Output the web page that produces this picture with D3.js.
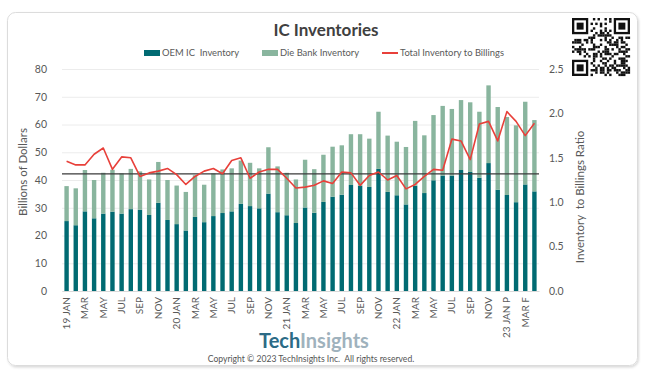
<!DOCTYPE html>
<html>
<head>
<meta charset="utf-8">
<script src="https://cdn.jsdelivr.net/npm/d3@7"></script>
<style>
  html, body { margin: 0; padding: 0; background: #ffffff; }
  svg { display: block; font-family: Lato, "Open Sans", sans-serif; }
</style>
</head>
<body>
<div id="chart"></div>
<script>
// monthly points, Jan 2019 .. Apr 2023
const months = [
  "2019-01","2019-02","2019-03","2019-04","2019-05","2019-06","2019-07","2019-08","2019-09","2019-10","2019-11","2019-12",
  "2020-01","2020-02","2020-03","2020-04","2020-05","2020-06","2020-07","2020-08","2020-09","2020-10","2020-11","2020-12",
  "2021-01","2021-02","2021-03","2021-04","2021-05","2021-06","2021-07","2021-08","2021-09","2021-10","2021-11","2021-12",
  "2022-01","2022-02","2022-03","2022-04","2022-05","2022-06","2022-07","2022-08","2022-09","2022-10","2022-11","2022-12",
  "2023-01","2023-02","2023-03","2023-04"
];
// axis label for each month ("" = no label)
const tickLabels = [
  "19 JAN","","MAR","","MAY","","JUL","","SEP","","NOV","",
  "20 JAN","","MAR","","MAY","","JUL","","SEP","","NOV","",
  "21 JAN","","MAR","","MAY","","JUL","","SEP","","NOV","",
  "22 JAN","","MAR","","MAY","","JUL","","SEP","","NOV","",
  "23 JAN P","","MAR F",""
];
// billions of dollars
const oemInventory = [
  25.2, 23.7, 28.7, 26.2, 27.9, 28.6, 27.9, 29.5, 29.3, 27.4, 31.8, 25.6,
  24.1, 21.8, 26.7, 24.8, 27.0, 28.1, 28.7, 31.4, 30.6, 29.8, 35.1, 28.4,
  27.3, 24.5, 30.1, 28.2, 32.1, 34.0, 34.7, 38.2, 37.9, 37.5, 44.0, 35.7,
  34.5, 31.2, 37.9, 35.3, 39.9, 41.6, 41.6, 43.6, 42.9, 40.8, 46.1, 36.5,
  34.6, 32.0, 38.4, 35.9
];
const dieBankInventory = [
  12.6, 13.3, 14.9, 13.8, 14.7, 15.1, 14.5, 14.5, 13.8, 12.8, 14.7, 14.4,
  13.9, 13.9, 15.0, 13.5, 15.4, 15.7, 15.5, 15.6, 15.6, 14.4, 16.7, 16.5,
  15.3, 15.7, 17.2, 15.7, 17.0, 18.0, 17.8, 18.3, 18.6, 17.4, 20.6, 20.3,
  19.3, 20.7, 23.4, 20.8, 23.5, 25.1, 24.0, 25.2, 25.1, 23.8, 28.0, 29.8,
  28.1, 27.7, 29.8, 25.7
];
const inventoryToBillings = [
  1.46, 1.42, 1.42, 1.54, 1.61, 1.37, 1.51, 1.50, 1.29, 1.33, 1.35, 1.38,
  1.31, 1.20, 1.29, 1.35, 1.38, 1.32, 1.47, 1.50, 1.27, 1.34, 1.37, 1.37,
  1.27, 1.16, 1.17, 1.19, 1.24, 1.21, 1.34, 1.33, 1.19, 1.30, 1.34, 1.25,
  1.30, 1.15, 1.20, 1.29, 1.37, 1.36, 1.71, 1.69, 1.48, 1.88, 1.91, 1.69,
  2.02, 1.91, 1.75, 1.89
];
const ratioReference = 1.32;

const leftTicks = [0, 10, 20, 30, 40, 50, 60, 70, 80];
const rightTicks = [0, 0.5, 1.0, 1.5, 2.0, 2.5];

const colors = {
  oem: "#006a72",
  dieBank: "#89b59e",
  ratio: "#e8403a",
  text: "#595959",
  grid: "#ececec"
};

class InventoryChart {
  constructor(selector) {
    this.element = d3.select(selector);
    this.width = 645;
    this.height = 374;
    this.margin = {top: 69, right: 106, bottom: 83, left: 62};
    this.data = months.map((m, i) => ({
      month: m,
      label: tickLabels[i],
      oem: oemInventory[i],
      dieBank: dieBankInventory[i],
      ratio: inventoryToBillings[i]
    }));
    this.draw();
  }

  draw() {
    this.createSVG();
    this.renderFrame();
    this.createScales();
    this.renderGrid();
    this.renderBars();
    this.renderReference();
    this.renderLine();
    this.renderAxis();
    this.renderTitles();
    this.renderLegend();
    this.renderFooter();
    this.renderQR();
  }

  createSVG() {
    this.svg = this.element.append("svg")
      .attr("width", this.width)
      .attr("height", this.height)
      .attr("viewBox", `0 0 ${this.width} ${this.height}`);
  }

  renderFrame() {
    const defs = this.svg.append("defs");
    const f = defs.append("filter").attr("id", "shadow")
      .attr("x", "-5%").attr("y", "-5%").attr("width", "110%").attr("height", "110%");
    f.append("feDropShadow").attr("dx", 1).attr("dy", 1.5).attr("stdDeviation", 1.2)
      .attr("flood-color", "#000").attr("flood-opacity", 0.15);
    this.svg.append("rect")
      .attr("x", 7.5).attr("y", 12.5)
      .attr("width", 630).attr("height", 353)
      .attr("rx", 8)
      .attr("fill", "#fff")
      .attr("stroke", "#dcdcdc")
      .attr("filter", "url(#shadow)");
  }

  createScales() {
    const m = this.margin;
    this.x = d3.scaleBand()
      .domain(months)
      .range([m.left, this.width - m.right])
      .paddingInner(0.52)
      .paddingOuter(0.26);
    this.y = d3.scaleLinear()
      .domain([0, 80])
      .range([this.height - m.bottom, m.top]);
    this.yRatio = d3.scaleLinear()
      .domain([0, 2.5])
      .range([this.height - m.bottom, m.top]);
  }

  renderGrid() {
    const m = this.margin;
    this.svg.append("g")
      .attr("class", "axis-grid")
      .attr("transform", `translate(${m.left},0)`)
      .call(d3.axisLeft(this.y).tickValues(leftTicks).tickSize(-(this.width - m.left - m.right)).tickFormat(""))
      .call(g => g.select(".domain").remove())
      .call(g => g.selectAll("line").attr("stroke", colors.grid).attr("stroke-width", 1));
  }

  renderBars() {
    const series = d3.stack().keys(["oem", "dieBank"])(this.data);
    this.svg.append("g")
      .selectAll("g")
      .data(series)
      .enter()
      .append("g")
      .attr("fill", d => colors[d.key])
      .selectAll("rect")
      .data(d => d)
      .enter()
      .append("rect")
      .attr("x", d => this.x(d.data.month))
      .attr("width", this.x.bandwidth())
      .attr("y", d => this.y(d[1]))
      .attr("height", d => this.y(d[0]) - this.y(d[1]));
  }

  renderReference() {
    const m = this.margin;
    this.svg.append("line")
      .attr("x1", m.left).attr("x2", this.width - m.right)
      .attr("y1", this.yRatio(ratioReference)).attr("y2", this.yRatio(ratioReference))
      .attr("stroke", "#3a3a3a")
      .attr("stroke-width", 1.2);
  }

  renderLine() {
    const half = this.x.bandwidth() / 2;
    const line = d3.line()
      .x(d => this.x(d.month) + half)
      .y(d => this.yRatio(d.ratio));
    this.svg.append("path")
      .datum(this.data)
      .attr("fill", "none")
      .attr("stroke", colors.ratio)
      .attr("stroke-width", 1.6)
      .attr("stroke-linejoin", "round")
      .attr("d", line);
  }

  renderAxis() {
    const m = this.margin;
    const bottom = this.height - m.bottom;

    this.svg.append("g")
      .attr("transform", `translate(${m.left - 9},0)`)
      .call(d3.axisLeft(this.y).tickValues(leftTicks).tickSize(0).tickPadding(6))
      .call(g => g.select(".domain").remove())
      .call(g => g.selectAll("text").attr("fill", colors.text).attr("font-size", 10.5).attr("font-family", "Lato, sans-serif"));

    this.svg.append("g")
      .attr("transform", `translate(${this.width - m.right + 4},0)`)
      .call(d3.axisRight(this.yRatio).tickValues(rightTicks).tickSize(0).tickPadding(6).tickFormat(d3.format(".1f")))
      .call(g => g.select(".domain").remove())
      .call(g => g.selectAll("text").attr("fill", colors.text).attr("font-size", 10.5).attr("font-family", "Lato, sans-serif"));

    const xAxis = this.svg.append("g")
      .attr("transform", `translate(0,${bottom})`)
      .call(d3.axisBottom(this.x).tickSize(0).tickFormat((d, i) => tickLabels[i]));
    xAxis.select(".domain").attr("stroke", "#d9d9d9");
    xAxis.selectAll("text")
      .attr("fill", colors.text)
      .attr("font-size", 10)
      .attr("font-family", "Lato, sans-serif")
      .attr("text-anchor", "end")
      .attr("transform", "translate(0,6) rotate(-90)")
      .attr("x", 0)
      .attr("y", 0)
      .attr("dy", "0.35em");
  }

  renderTitles() {
    this.svg.append("text")
      .attr("x", 326).attr("y", 36)
      .attr("text-anchor", "middle")
      .attr("font-size", 17)
      .attr("font-weight", "bold")
      .attr("fill", "#404040")
      .text("IC Inventories");

    this.svg.append("text")
      .attr("transform", "translate(27,172) rotate(-90)")
      .attr("text-anchor", "middle")
      .attr("font-size", 11.5)
      .attr("fill", colors.text)
      .text("Billions of Dollars");

    this.svg.append("text")
      .attr("transform", "translate(584,197) rotate(-90)")
      .attr("text-anchor", "middle")
      .attr("font-size", 11.5)
      .attr("fill", colors.text)
      .attr("xml:space", "preserve")
      .text("Inventory  to Billings Ratio");
  }

  renderLegend() {
    const items = [
      {label: "OEM IC\u00a0 Inventory", color: colors.oem, x: 144, type: "rect"},
      {label: "Die Bank Inventory", color: colors.dieBank, x: 262, type: "rect"},
      {label: "Total Inventory to Billings", color: colors.ratio, x: 382, type: "line"}
    ];
    const g = this.svg.append("g").attr("transform", "translate(0,53)");
    items.forEach(item => {
      if (item.type === "rect") {
        g.append("rect").attr("x", item.x).attr("y", -3).attr("width", 16).attr("height", 6).attr("fill", item.color);
      } else {
        g.append("line").attr("x1", item.x).attr("x2", item.x + 16).attr("y1", 0).attr("y2", 0)
          .attr("stroke", item.color).attr("stroke-width", 2);
      }
      g.append("text")
        .attr("x", item.x + 18).attr("y", 0).attr("dy", "0.35em")
        .attr("font-size", 9.4)
        .attr("fill", colors.text)
        .text(item.label);
    });
  }

  renderFooter() {
    const logo = this.svg.append("text")
      .attr("x", 314).attr("y", 348)
      .attr("text-anchor", "middle")
      .attr("font-size", 20)
      .attr("font-weight", "bold");
    logo.append("tspan").attr("fill", "#2c6b86").text("Tech");
    logo.append("tspan").attr("fill", "#9fb2bd").text("Insights");

    this.svg.append("text")
      .attr("x", 311).attr("y", 362)
      .attr("text-anchor", "middle")
      .attr("font-size", 8.6)
      .attr("fill", "#555")
      .attr("xml:space", "preserve")
      .text("Copyright \u00a9 2023 TechInsights Inc.  All rights reserved.");
  }

  // decorative QR block in the corner
  renderQR() {
    const n = 25, size = 58, x0 = 572, y0 = 18, cell = size / n;
    const g = this.svg.append("g");
    g.append("rect").attr("x", x0).attr("y", y0).attr("width", size).attr("height", size).attr("fill", "#fff");
    const inFinder = (r, c) => (r < 8 && c < 8) || (r < 8 && c >= n - 8) || (r >= n - 8 && c < 8);
    for (let r = 0; r < n; r++) {
      for (let c = 0; c < n; c++) {
        if (inFinder(r, c)) continue;
        const h = ((r * 73856093) ^ (c * 19349663) ^ (r * c * 83492791)) >>> 0;
        if (h % 7 < 3) {
          g.append("rect").attr("x", x0 + c * cell).attr("y", y0 + r * cell)
            .attr("width", cell + 0.1).attr("height", cell + 0.1).attr("fill", "#111");
        }
      }
    }
    [[0, 0], [0, n - 7], [n - 7, 0]].forEach(([r, c]) => {
      const fx = x0 + c * cell, fy = y0 + r * cell;
      g.append("rect").attr("x", fx).attr("y", fy).attr("width", 7 * cell).attr("height", 7 * cell).attr("fill", "#111");
      g.append("rect").attr("x", fx + cell).attr("y", fy + cell).attr("width", 5 * cell).attr("height", 5 * cell).attr("fill", "#fff");
      g.append("rect").attr("x", fx + 2 * cell).attr("y", fy + 2 * cell).attr("width", 3 * cell).attr("height", 3 * cell).attr("fill", "#111");
    });
  }
}

new InventoryChart("#chart");
</script>
</body>
</html>
